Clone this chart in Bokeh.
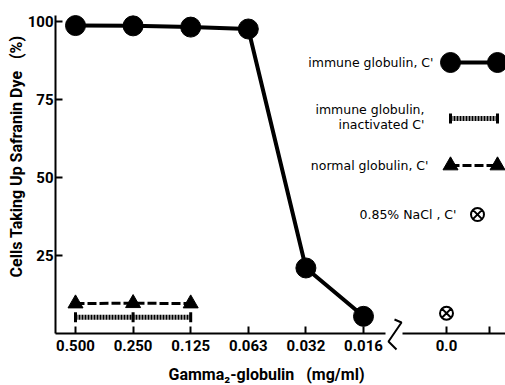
import math
from bokeh.plotting import figure
from bokeh.models import FixedTicker, Label, LinearAxis, Range1d
from bokeh.core.properties import value
from bokeh.embed import file_html
from bokeh.resources import INLINE

# ---------------- data ----------------
conc_labels = ["0.500", "0.250", "0.125", "0.063", "0.032", "0.016"]
zero_label = "0.0"
immune_c = [98.7, 98.6, 98.2, 97.6, 21.0, 5.5]
inactivated_c = [5.2, 5.2, 5.2]
normal_c = [9.6, 9.7, 9.6]
nacl_c = [6.5]
y_ticks = [25, 50, 75, 100]

# ---------------- layout (page px -> data) ----------------
def dx(px):
    return (px - 75) / 57.6

def dy(py):
    return (333 - py) / 3.12

W, H = 505, 385
x_idx = list(range(len(conc_labels)))
zero_pos = dx(446)        # position of the 0.0 group after the axis break
extra_tick = dx(489)
AX_X = dx(55)             # where the y axis stands
BREAK_L, BREAK_R = dx(385), dx(402)
Y_TOP = dy(15)

FONT = "Roboto"
LEG_FONT = "DejaVu Sans"

p = figure(width=W, height=H, output_backend="svg", toolbar_location=None,
           x_range=Range1d(dx(0), dx(W)), y_range=Range1d(dy(H), dy(0)),
           x_axis_location=None, y_axis_location=None, min_border=0)
p.grid.visible = False
p.outline_line_color = None
p.background_fill_color = "white"


def style(ax):
    ax.axis_line_width = 2
    ax.axis_line_color = "black"
    ax.major_tick_in = 7
    ax.major_tick_out = 0
    ax.major_tick_line_width = 2
    ax.minor_tick_line_color = None
    ax.major_label_text_font = FONT
    ax.major_label_text_font_style = "bold"
    ax.major_label_text_font_size = "15px"
    ax.major_label_text_color = "black"
    ax.major_label_standoff = 6


# x axis, left part
xa1 = LinearAxis(fixed_location=0, bounds=(AX_X, BREAK_L),
                 ticker=FixedTicker(ticks=x_idx),
                 major_label_overrides={i: lab for i, lab in zip(x_idx, conc_labels)})
style(xa1)
p.add_layout(xa1, "below")
# x axis, right part (after break)
xa2 = LinearAxis(fixed_location=0, bounds=(BREAK_R, dx(W)),
                 ticker=FixedTicker(ticks=[zero_pos, extra_tick]),
                 major_label_overrides={zero_pos: zero_label, extra_tick: ""})
style(xa2)
p.add_layout(xa2, "below")
# y axis
ya = LinearAxis(fixed_location=AX_X, bounds=(0, Y_TOP), ticker=FixedTicker(ticks=y_ticks))
style(ya)
ya.major_label_standoff = 2
p.add_layout(ya, "left")

# zigzag break mark
zz_x = [dx(394), dx(401), dx(388), dx(396)]
zz_y = [dy(319), dy(322), dy(341), dy(349)]
p.line(zz_x, zz_y, line_width=2, color="black")

# ---------------- series ----------------
p.line(x_idx, immune_c, line_width=4, color="black")
p.scatter(x_idx, immune_c, size=20, marker="circle", color="black")

xi = x_idx[:len(inactivated_c)]
p.line(xi, inactivated_c, line_width=5, color="black", line_dash="2 1")
p.scatter(xi, inactivated_c, marker="dash", angle=math.pi / 2, size=10,
          line_width=3, color="black")

xn = x_idx[:len(normal_c)]
p.line(xn, normal_c, line_width=3, color="black", line_dash="9 3")
p.scatter(xn, normal_c, marker="triangle", size=15, color="black")

p.scatter([zero_pos], nacl_c, marker="circle_x", size=13, fill_color="white",
          line_color="black", line_width=2)

# ---------------- key ----------------
tk = dict(text_font=value(LEG_FONT), text_font_size="12.5px", text_align="right",
          text_baseline="middle", text_color="black")
p.text([dx(433)], [dy(62)], text=["immune globulin, C'"], **tk)
p.line([dx(450), dx(497)], [dy(62), dy(62)], line_width=4, color="black")
p.scatter([dx(450), dx(497)], [dy(62), dy(62)], size=20, color="black")

p.text([dx(424)], [dy(109)], text=["immune globulin,"], **tk)
p.text([dx(424)], [dy(124)], text=["inactivated C'"], **tk)
p.line([dx(450), dx(497)], [dy(118), dy(118)], line_width=5, color="black", line_dash="2 1")
p.scatter([dx(450), dx(497)], [dy(118), dy(118)], marker="dash", angle=math.pi / 2,
          size=10, line_width=3, color="black")

p.text([dx(428)], [dy(165)], text=["normal globulin, C'"], **tk)
p.line([dx(450), dx(497)], [dy(165), dy(165)], line_width=3, color="black", line_dash="9 3")
p.scatter([dx(450), dx(497)], [dy(165), dy(165)], marker="triangle", size=15, color="black")

p.text([dx(456)], [dy(214)], text=["0.85% NaCl , C'"], **tk)
p.scatter([dx(477)], [dy(214)], marker="circle_x", size=13, fill_color="white",
          line_color="black", line_width=2)

# ---------------- axis titles ----------------
p.add_layout(Label(x=dx(16), y=dy(156),
                   text="Cells Taking Up Safranin Dye\u00a0\u00a0\u00a0(%)", angle=math.pi / 2,
                   text_align="center", text_baseline="middle", text_color="black",
                   text_font=FONT, text_font_style="bold", text_font_size="16px"))
p.add_layout(Label(x=dx(266), y=dy(374),
                   text="Gamma\u2082-globulin\u00a0\u00a0\u00a0(mg/ml)",
                   text_align="center", text_baseline="middle", text_color="black",
                   text_font=FONT, text_font_style="bold", text_font_size="16px"))

open("out.html", "w").write(file_html(p, INLINE))
